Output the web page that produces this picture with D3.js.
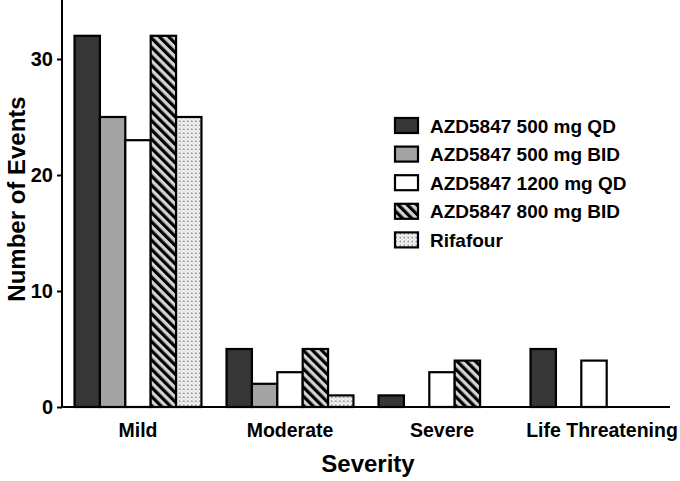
<!DOCTYPE html>
<html>
<head>
<meta charset="utf-8">
<script src="https://cdn.jsdelivr.net/npm/d3@7"></script>
<style>
  html, body { margin: 0; padding: 0; background: #fff; }
  svg { display: block; font-family: "Liberation Sans", Arial, sans-serif; }
</style>
</head>
<body>
<svg id="chart" width="680" height="481"></svg>
<script>
const categories = ["Mild", "Moderate", "Severe", "Life Threatening"];
const seriesNames = ["AZD5847 500 mg QD", "AZD5847 500 mg BID", "AZD5847 1200 mg QD", "AZD5847 800 mg BID", "Rifafour"];
const qd500 = [32, 5, 1, 5];
const bid500 = [25, 2, 0, 0];
const qd1200 = [23, 3, 3, 4];
const bid800 = [32, 5, 4, 0];
const rifafour = [25, 1, 0, 0];
const yTicks = [0, 10, 20, 30];

const seriesValues = [qd500, bid500, qd1200, bid800, rifafour];
const fills = ["#363636", "#a3a3a3", "#ffffff", "url(#hatch)", "url(#dots)"];

const svg = d3.select("#chart");
const defs = svg.append("defs");

// hatch pattern "\\\"
const hatch = defs.append("pattern")
  .attr("id", "hatch").attr("patternUnits", "userSpaceOnUse")
  .attr("width", 6.5).attr("height", 6.5)
  .attr("patternTransform", "rotate(-45)");
hatch.append("rect").attr("width", 6.5).attr("height", 6.5).attr("fill", "#d4d4d4");
hatch.append("rect").attr("width", 3.2).attr("height", 6.5).attr("fill", "#000");

// dotted pattern
const dots = defs.append("pattern")
  .attr("id", "dots").attr("patternUnits", "userSpaceOnUse")
  .attr("width", 4).attr("height", 4);
dots.append("rect").attr("width", 4).attr("height", 4).attr("fill", "#f4f4f4");
dots.append("rect").attr("x", 0.5).attr("y", 0.5).attr("width", 1.5).attr("height", 1.5).attr("fill", "#777");
dots.append("rect").attr("x", 2.5).attr("y", 2.5).attr("width", 1).attr("height", 1).attr("fill", "#aaa");

const x0 = d3.scaleBand().domain(categories).range([62, 670]).paddingInner(0.165).paddingOuter(0.0825);
const x1 = d3.scaleBand().domain(d3.range(seriesNames.length)).range([0, x0.bandwidth()]);
const y = d3.scaleLinear().domain([0, 35]).range([407, 1]);

const table = categories.map((c, ci) => ({cat: c, vals: seriesValues.map((s, si) => ({si, v: s[ci]}))}));

const g = svg.append("g");
g.selectAll("g.grp").data(table).join("g").attr("class", "grp")
  .attr("transform", d => `translate(${x0(d.cat)},0)`)
  .selectAll("rect").data(d => d.vals.filter(o => o.v > 0)).join("rect")
  .attr("x", d => x1(d.si))
  .attr("y", d => y(d.v))
  .attr("width", x1.bandwidth())
  .attr("height", d => y(0) - y(d.v))
  .attr("fill", d => fills[d.si])
  .attr("stroke", "#000")
  .attr("stroke-width", 2.2);

// y axis
const yAxis = svg.append("g").attr("transform", "translate(62,0)")
  .call(d3.axisLeft(y).tickValues(yTicks).tickSize(5).tickPadding(4).tickFormat(d3.format("d")));
yAxis.select(".domain").attr("d", "M0,0V407").attr("stroke", "#000").attr("stroke-width", 2);
yAxis.selectAll(".tick line").attr("stroke", "#000").attr("stroke-width", 2);
yAxis.selectAll(".tick text").attr("font-size", 20).attr("font-weight", "bold").attr("fill", "#000")
  .attr("font-family", "Liberation Sans, Arial, sans-serif");

// x axis
const xAxis = svg.append("g").attr("transform", "translate(0,407)")
  .call(d3.axisBottom(x0).tickSize(0).tickPadding(16));
xAxis.select(".domain").attr("d", "M62,0H670").attr("stroke", "#000").attr("stroke-width", 2);
xAxis.selectAll(".tick text").attr("font-size", 19.5).attr("font-weight", "bold").attr("fill", "#000")
  .attr("font-family", "Liberation Sans, Arial, sans-serif")
  .attr("dx", d => d === "Life Threatening" ? 8 : 0);

// axis titles
svg.append("text").attr("x", 368).attr("y", 472).attr("text-anchor", "middle")
  .attr("font-size", 24).attr("font-weight", "bold").text("Severity");
svg.append("text").attr("transform", "translate(25,199) rotate(-90)").attr("text-anchor", "middle")
  .attr("font-size", 24).attr("font-weight", "bold").text("Number of Events");

// legend
const legend = svg.append("g").attr("transform", "translate(395,118)");
const li = legend.selectAll("g").data(seriesNames).join("g")
  .attr("transform", (d, i) => `translate(0,${i * 28.6})`);
li.append("rect").attr("width", 23).attr("height", 15)
  .attr("fill", (d, i) => fills[i]).attr("stroke", "#000").attr("stroke-width", 2.2);
li.append("text").attr("x", 35).attr("y", 14.5).attr("font-size", 19).attr("font-weight", "bold")
  .text(d => d);
</script>
</body>
</html>
